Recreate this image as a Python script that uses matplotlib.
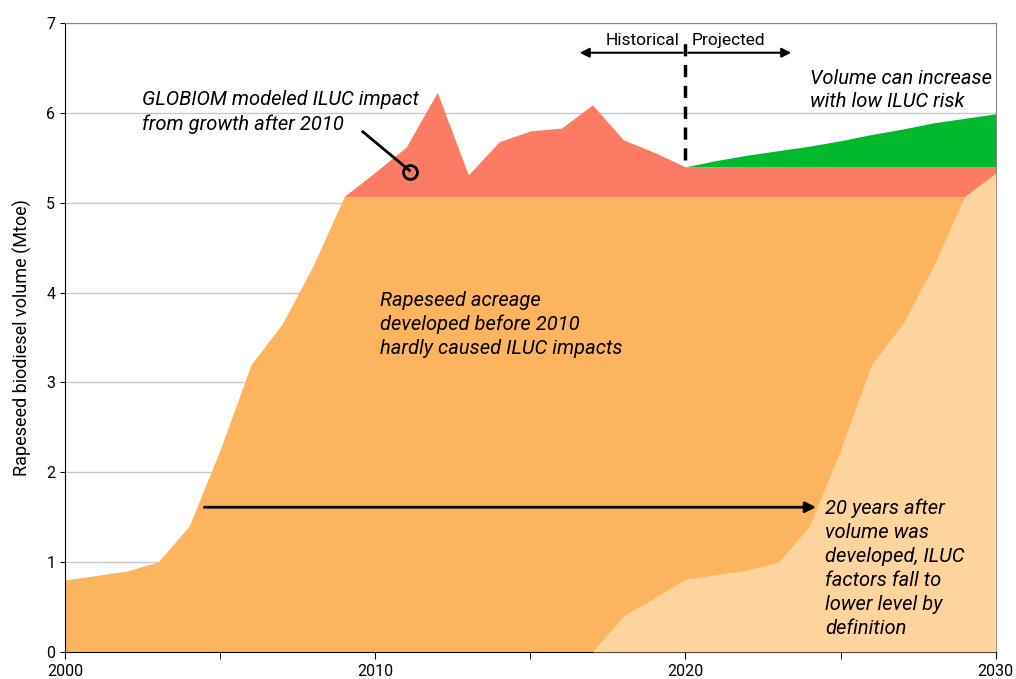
import numpy as np
import matplotlib
matplotlib.use("Agg")
import matplotlib.pyplot as plt

plt.rcParams['font.family'] = ['Roboto', 'DejaVu Sans']

# data #
years = list(range(2000, 2031))
developed = [0.80, 0.85, 0.90, 1.00, 1.40, 2.25, 3.20, 3.65, 4.30, 5.07] + [5.07] * 21

total_years = list(range(2009, 2031))
total = [5.07, 5.34, 5.62, 6.23, 5.31, 5.68, 5.80, 5.83, 6.09, 5.70, 5.56, 5.40] + [5.40] * 10

green_years = list(range(2020, 2031))
green_top = [5.40, 5.47, 5.53, 5.58, 5.63, 5.69, 5.76, 5.82, 5.89, 5.94, 5.99]

light_years = list(range(2017, 2031))
light = [0.0, 0.40, 0.60, 0.81, 0.86, 0.91, 1.00, 1.40, 2.25, 3.20, 3.65, 4.30, 5.07, 5.33]

xticks_major = [2000, 2010, 2020, 2030]
xticks_minor = [2005, 2015, 2025]
yticks = [0, 1, 2, 3, 4, 5, 6, 7]

c_orange = "#FDB45E"
c_red = "#FB7B65"
c_green = "#00B92F"
c_light = "#FED49E"

fig = plt.figure(figsize=(10.16, 6.79), dpi=100)
ax = fig.add_axes([0.064, 0.040, 0.916, 0.926])

# grid #
for y in yticks[1:]:
    ax.axhline(y, color="#c8c8c8", lw=1.0, zorder=0)

# areas #
ax.fill_between(years, 0, developed, color=c_orange, lw=0, zorder=1)
base = [5.07] * len(total_years)
ax.fill_between(total_years, base, total, color=c_red, lw=0, zorder=2)
ax.fill_between(green_years, [5.40] * len(green_years), green_top, color=c_green, lw=0, zorder=2)
ax.fill_between(light_years, 0, light, color=c_light, lw=0, zorder=3)

# dashed split #
ax.plot([2020, 2020], [5.48, 6.79], color="black", lw=2.5, ls=(0, (3.5, 2.5)), zorder=5)
ax.annotate("", xy=(2016.5, 6.67), xytext=(2020, 6.67),
            arrowprops=dict(arrowstyle="-|>", color="black", lw=1.5, mutation_scale=14), zorder=5)
ax.annotate("", xy=(2023.5, 6.67), xytext=(2020, 6.67),
            arrowprops=dict(arrowstyle="-|>", color="black", lw=1.5, mutation_scale=14), zorder=5)
ax.text(2019.8, 6.81, "Historical", ha="right", va="center", fontsize=12.5)
ax.text(2020.2, 6.81, "Projected", ha="left", va="center", fontsize=12.5)

# annotations #
fs = 14.5
ax.text(2002.48, 6.015, "GLOBIOM modeled ILUC impact\nfrom growth after 2010",
        style="italic", fontsize=fs, ha="left", va="center", linespacing=1.36)
ax.plot([2009.6, 2011.1], [5.79, 5.36], color="black", lw=2, zorder=6)
ax.plot([2011.12], [5.34], marker="o", ms=10, mfc="none", mec="black", mew=2, zorder=6)

ax.text(2010.15, 3.645, "Rapeseed acreage\ndeveloped before 2010\nhardly caused ILUC impacts",
        style="italic", fontsize=fs, ha="left", va="center", linespacing=1.29, zorder=6)

ax.text(2024.0, 6.254, "Volume can increase\nwith low ILUC risk",
        style="italic", fontsize=fs, ha="left", va="center", linespacing=1.29, zorder=6)

ax.annotate("", xy=(2024.3, 1.61), xytext=(2004.4, 1.61),
            arrowprops=dict(arrowstyle="-|>", color="black", lw=2, mutation_scale=16), zorder=6)
ax.text(2024.5, 0.93, "20 years after\nvolume was\ndeveloped, ILUC\nfactors fall to\nlower level by\ndefinition",
        style="italic", fontsize=fs, ha="left", va="center", linespacing=1.33, zorder=6)

# axes #
ax.set_xlim(2000, 2030)
ax.set_ylim(0, 7)
ax.set_xticks(xticks_major)
ax.set_xticks(xticks_minor, minor=True)
ax.set_yticks(yticks)
ax.tick_params(axis="both", labelsize=11.5, direction="out")
ax.tick_params(axis="x", which="both", length=5)
ax.set_ylabel("Rapeseed biodiesel volume (Mtoe)", fontsize=13, labelpad=10)
ax.spines["top"].set_color("#888888")
ax.spines["right"].set_color("#888888")

fig.savefig("out.png", dpi=100)
